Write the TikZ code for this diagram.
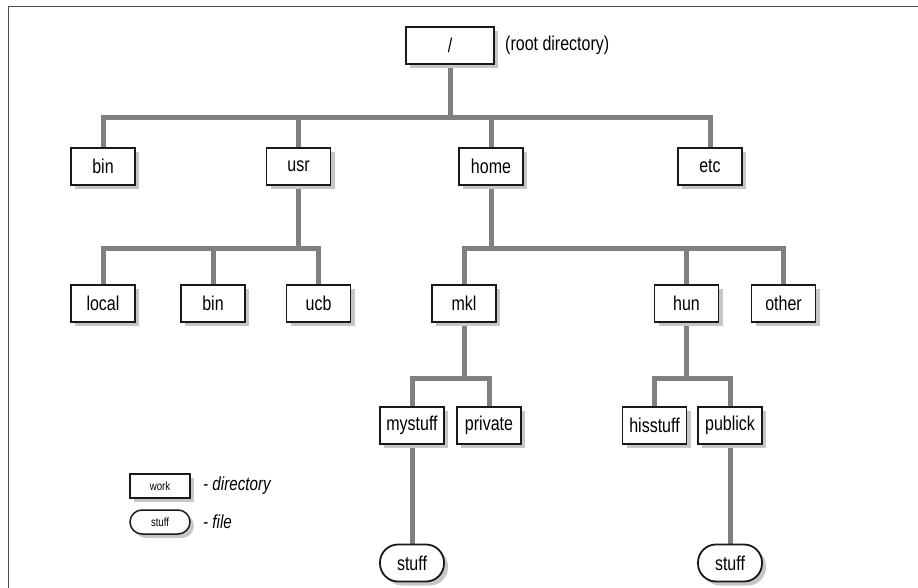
\documentclass[tikz,border=0pt]{standalone}
\usepackage{fontspec}
\setmainfont[FakeStretch=0.8]{Liberation Sans}
\usetikzlibrary{shadows,backgrounds}
\tikzset{
  dirbox/.style={draw=black!90, line width=1.8pt, fill=white, minimum width=64pt, minimum height=37pt, inner sep=0pt,
    font=\fontsize{20}{24}\selectfont,
    drop shadow={shadow xshift=4pt, shadow yshift=-4pt, fill=black!22, opacity=1, draw=none}},
  filebox/.style={dirbox, rounded corners=18pt},
  smalldir/.style={dirbox, minimum width=60pt, minimum height=24pt, line width=1.5pt, font=\fontsize{12}{14}\selectfont},
  smallfile/.style={smalldir, rounded corners=12pt},
  conn/.style={draw=black!50, line width=5pt},
  legtext/.style={font=\fontsize{19}{22}\selectfont\itshape, anchor=west, inner sep=0pt},
}
\begin{document}
\begin{tikzpicture}[x=1pt, y=-1pt]
\useasboundingbox (0,0) rectangle (918,588);
\draw[black!70, line width=1.6pt] (918,6.5) -- (8.5,6.5) -- (8.5,588);

% level 0
\node[dirbox, minimum width=88pt] (root) at (450,45.5) {/};
\node[anchor=west, inner sep=0pt, font=\fontsize{20}{24}\selectfont] (rootlbl) at (505,45.5) {(root directory)};

% level 1
\node[dirbox] (bin) at (103,166.5) {bin};
\node[dirbox] (usr) at (298.5,166.5) {usr};
\node[dirbox] (home) at (491,166.5) {home};
\node[dirbox] (etc) at (710,166.5) {etc};

% level 2
\node[dirbox] (local) at (103,303.5) {local};
\node[dirbox] (ubin) at (213,303.5) {bin};
\node[dirbox] (ucb) at (318.5,303.5) {ucb};
\node[dirbox] (mkl) at (464,303.5) {mkl};
\node[dirbox] (hun) at (686.5,303.5) {hun};
\node[dirbox] (other) at (783.5,303.5) {other};

% level 3
\node[dirbox] (mystuff) at (412,425.5) {mystuff};
\node[dirbox] (private) at (489,425.5) {private};
\node[dirbox] (hisstuff) at (654.5,425.5) {hisstuff};
\node[dirbox] (publick) at (730,425.5) {publick};

% level 4
\node[filebox] (stuffa) at (412,563) {stuff};
\node[filebox] (stuffb) at (730,563) {stuff};

% legend
\node[smalldir] (legdir) at (160,486) {work};
\node[smallfile] (legfile) at (160,522) {stuff};
\node[legtext] (legdirtxt) at (203,486) {- directory};
\node[legtext] (legfiletxt) at (203,522) {- file};

\coordinate (b1) at (0,118);
\coordinate (b2) at (0,248);
\coordinate (b3) at (0,378);

\begin{scope}[on background layer]
\draw[conn] (root.south) -- (root.south |- b1);
\draw[conn] (bin.north) -- (bin.north |- b1) -- (etc.north |- b1) -- (etc.north);
\draw[conn] (usr.north) -- (usr.north |- b1);
\draw[conn] (home.north) -- (home.north |- b1);

\draw[conn] (usr.south) -- (usr.south |- b2);
\draw[conn] (local.north) -- (local.north |- b2) -- (ucb.north |- b2) -- (ucb.north);
\draw[conn] (ubin.north) -- (ubin.north |- b2);

\draw[conn] (home.south) -- (home.south |- b2);
\draw[conn] (mkl.north) -- (mkl.north |- b2) -- (other.north |- b2) -- (other.north);
\draw[conn] (hun.north) -- (hun.north |- b2);

\draw[conn] (mkl.south) -- (mkl.south |- b3);
\draw[conn] (mystuff.north) -- (mystuff.north |- b3) -- (private.north |- b3) -- (private.north);
\draw[conn] (hun.south) -- (hun.south |- b3);
\draw[conn] (hisstuff.north) -- (hisstuff.north |- b3) -- (publick.north |- b3) -- (publick.north);

\draw[conn] (mystuff.south) -- (stuffa.north);
\draw[conn] (publick.south) -- (stuffb.north);
\end{scope}
\end{tikzpicture}
\end{document}
